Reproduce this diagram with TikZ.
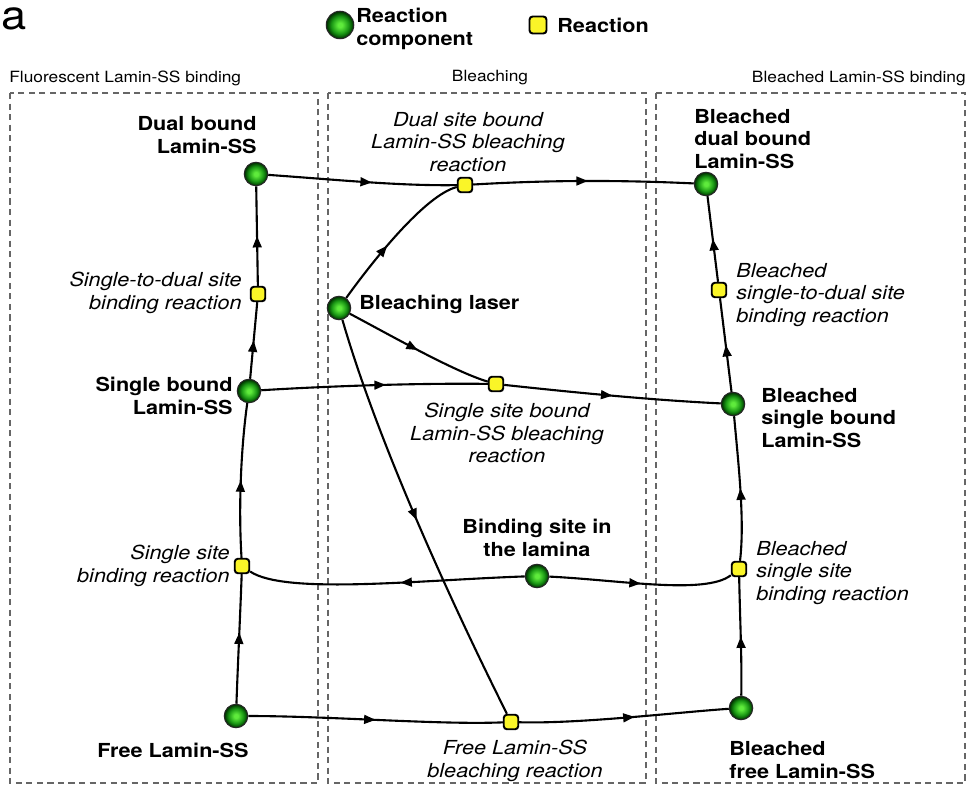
\documentclass[tikz,border=0pt]{standalone}
\usepackage{fontspec}
\setmainfont{TeX Gyre Heros}[FakeStretch=1.12]
\usetikzlibrary{arrows.meta,decorations.markings}
\definecolor{lgreen}{RGB}{95,235,60}
\definecolor{mgreen}{RGB}{25,150,20}
\definecolor{dgreen}{RGB}{0,55,0}
\definecolor{ryellow}{RGB}{250,245,40}
\pgfdeclareradialshading{gball}{\pgfpoint{0bp}{0bp}}{color(0bp)=(lgreen); color(4bp)=(lgreen); color(16bp)=(mgreen); color(24bp)=(dgreen); color(50bp)=(dgreen)}
\begin{document}
\begin{tikzpicture}[x=0.02cm,y=-0.02cm,
  comp/.style={circle, minimum size=0.47cm, inner sep=0pt, shading=gball, draw=black!85, line width=0.6pt},
  rxn/.style={rectangle, rounded corners=1.8pt, minimum size=0.29cm, inner sep=0pt, fill=ryellow, draw=black, line width=1.1pt},
  edge/.style={line width=1.2pt, black},
  marr/.style={postaction={decorate}, decoration={markings, mark=at position #1 with {\arrow{Triangle[length=6.5pt,width=5pt]}}}},
  blbl/.style={font=\fontsize{11}{13}\selectfont\bfseries, inner sep=0pt},
  ilbl/.style={font=\fontsize{11}{13}\selectfont\itshape, inner sep=0pt},
  hdr/.style={font=\fontsize{8.8}{10}\selectfont, inner sep=0pt},
  dbox/.style={draw=black!60, line width=0.6pt, dash pattern=on 3.5pt off 2.5pt}
]
\useasboundingbox (0,0) rectangle (969,787);

% dashed compartments
\draw[dbox] (10,93) rectangle (318,783);
\draw[dbox] (328,93) rectangle (646,783);
\draw[dbox] (656,93) rectangle (965,783);

% headers
\node[hdr, anchor=west] (h1) at (9,78) {Fluorescent Lamin-SS binding};
\node[hdr] (h2) at (490,78) {Bleaching};
\node[hdr, anchor=east] (h3) at (966,78) {Bleached Lamin-SS binding};

% panel letter
\node[font=\fontsize{23}{23}\selectfont, inner sep=0pt, anchor=base west] (pa) at (1,30) {a};

% legend
\node[comp, minimum size=0.55cm] (legc) at (340,25) {};
\node[blbl, anchor=west, align=left] (legct) at (356,29) {Reaction\\component};
\node[rxn, minimum size=0.34cm] (legr) at (538,25) {};
\node[blbl, anchor=west] (legrt) at (557,25) {Reaction};

% components
\node[comp] (dual) at (256,174) {};
\node[comp] (single) at (249,391) {};
\node[comp] (free) at (236,716) {};
\node[comp] (laser) at (339,308) {};
\node[comp] (site) at (537,576) {};
\node[comp] (bdual) at (706,184) {};
\node[comp] (bsingle) at (733,404) {};
\node[comp] (bfree) at (741,708) {};

% reactions
\node[rxn] (rsd) at (258,294) {};
\node[rxn] (rdb) at (465,185) {};
\node[rxn] (rsb) at (496,384) {};
\node[rxn] (rss) at (242,566) {};
\node[rxn] (rfb) at (511,722) {};
\node[rxn] (rbsd) at (719,290) {};
\node[rxn] (rbss) at (739,569) {};

% component labels
\node[blbl, anchor=east, align=right] (ldual) at (257,135) {Dual bound\\Lamin-SS};
\node[blbl, anchor=east, align=right] (lsingle) at (233,396) {Single bound\\Lamin-SS};
\node[blbl] (lfree) at (173,750) {Free Lamin-SS};
\node[blbl, anchor=west] (llaser) at (359,304) {Bleaching laser};
\node[blbl, align=center] (lsite) at (537,538) {Binding site in\\the lamina};
\node[blbl, anchor=west, align=left] (lbdual) at (694,139) {Bleached\\dual bound\\Lamin-SS};
\node[blbl, anchor=west, align=left] (lbsingle) at (761,418) {Bleached\\single bound\\Lamin-SS};
\node[blbl, anchor=west, align=left] (lbfree) at (729,760) {Bleached\\free Lamin-SS};

% reaction labels
\node[ilbl, anchor=east, align=right] (lrsd) at (242,293) {Single-to-dual site\\binding reaction};
\node[ilbl, align=center] (lrdb) at (468,142) {Dual site bound\\Lamin-SS bleaching\\reaction};
\node[ilbl, align=center] (lrsb) at (507,433) {Single site bound\\Lamin-SS bleaching\\reaction};
\node[ilbl, anchor=east, align=right] (lrss) at (230,566) {Single site\\binding reaction};
\node[ilbl, align=center] (lrfb) at (515,761) {Free Lamin-SS\\bleaching reaction};
\node[ilbl, anchor=west, align=left] (lrbsd) at (736,295) {Bleached\\single-to-dual site\\binding reaction};
\node[ilbl, anchor=west, align=left] (lrbss) at (756,573) {Bleached\\single site\\binding reaction};

% connectors
\draw[edge, marr=0.55] (dual) .. controls (340,180) and (400,186) .. (rdb);
\draw[edge, marr=0.42] (laser) .. controls (372,262) and (425,195) .. (rdb);
\draw[edge, marr=0.52] (rdb) .. controls (550,180) and (620,180) .. (bdual);
\draw[edge, marr=0.5] (rbsd) -- (bdual);
\draw[edge, marr=0.5] (bsingle) -- (rbsd);
\draw[edge, marr=0.55] (single) .. controls (330,386) and (420,383) .. (rsb);
\draw[edge, marr=0.5] (laser) .. controls (390,335) and (455,372) .. (rsb);
\draw[edge, marr=0.5] (rsb) .. controls (570,392) and (650,400) .. (bsingle);
\draw[edge, marr=0.5] (single) -- (rsd);
\draw[edge, marr=0.5] (rsd) -- (dual);
\draw[edge, marr=0.5] (rss) .. controls (238,500) and (242,440) .. (single);
\draw[edge, marr=0.55] (free) .. controls (238,660) and (240,620) .. (rss);
\draw[edge, marr=0.45] (site) .. controls (420,580) and (285,595) .. (rss);
\draw[edge, marr=0.5] (site) .. controls (620,580) and (705,595) .. (rbss);
\draw[edge, marr=0.5] (rbss) .. controls (745,520) and (738,460) .. (bsingle);
\draw[edge, marr=0.5] (bfree) .. controls (742,660) and (740,620) .. (rbss);
\draw[edge, marr=0.5] (free) .. controls (330,716) and (440,725) .. (rfb);
\draw[edge, marr=0.5] (laser) .. controls (380,450) and (460,620) .. (rfb);
\draw[edge, marr=0.55] (rfb) .. controls (580,724) and (680,712) .. (bfree);
\end{tikzpicture}
\end{document}
